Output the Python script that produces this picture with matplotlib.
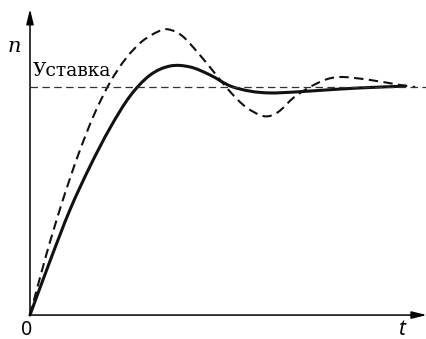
import matplotlib
matplotlib.use("Agg")
import matplotlib.pyplot as plt
from matplotlib.path import Path
from matplotlib.patches import PathPatch
import numpy as np

# values (t in arbitrary units, n relative to setpoint = 1)
setpoint = 1.0

t_solid = [0.0, 0.5, 1.0, 1.5, 2.0, 2.5, 3.0, 3.5, 4.0, 4.5, 5.0, 5.5, 6.0,
           6.6, 7.4, 8.25, 9.38]
n_solid = [0.0, 0.237, 0.462, 0.652, 0.82, 0.96, 1.052, 1.092, 1.088, 1.053, 1.005,
           0.982, 0.974, 0.978, 0.987, 0.996, 1.004]

t_dash = [0.0, 0.4, 0.8, 1.2, 1.6, 2.0, 2.4, 2.8, 3.2, 3.45, 3.8, 4.2, 4.6, 5.0,
          5.4, 5.85, 6.2, 6.6, 7.0, 7.4, 7.8, 8.5, 9.25, 9.63]
n_dash = [0.0, 0.26, 0.493, 0.70, 0.878, 1.02, 1.126, 1.2, 1.243, 1.253, 1.225,
          1.15, 1.065, 0.98, 0.912, 0.872, 0.89, 0.955, 1.0, 1.033, 1.044, 1.031,
          1.009, 1.0]

label_set = "Уставка"
label_y = "n"
label_x = "t"
label_origin = "0"


def smooth_path(xs, ys):
    # catmull-rom through the read points, drawn as cubic bezier
    p = np.column_stack([xs, ys])
    p = np.vstack([p[0], p, p[-1]])
    verts = [p[1]]
    codes = [Path.MOVETO]
    for i in range(1, len(p) - 2):
        c1 = p[i] + (p[i + 1] - p[i - 1]) / 6.0
        c2 = p[i + 1] - (p[i + 2] - p[i]) / 6.0
        verts += [c1, c2, p[i + 1]]
        codes += [Path.CURVE4] * 3
    return Path(verts, codes)


def main():
    fig = plt.figure(figsize=(4.27, 3.39), dpi=100)
    ax = fig.add_axes([0, 0, 1, 1])
    ax.set_xlim(-0.75, 9.925)
    ax.set_ylim(-0.105, 1.3816)
    ax.axis("off")

    # axes with arrows
    arrow = dict(arrowstyle="-|>,head_length=0.9,head_width=0.22", lw=1.1,
                 color="black", shrinkA=0, shrinkB=0)
    ax.annotate("", xy=(9.92, 0), xytext=(0, 0), arrowprops=arrow,
                annotation_clip=False)
    ax.annotate("", xy=(0, 1.342), xytext=(0, 0), arrowprops=arrow,
                annotation_clip=False)

    # setpoint
    ax.plot([0, 9.925], [setpoint, setpoint], color="#333333", lw=0.9,
            dashes=(6, 3.5))

    # responses
    ax.add_patch(PathPatch(smooth_path(t_dash, n_dash), fill=False,
                           edgecolor="#111111", lw=1.5,
                           linestyle=(0, (4.5, 2.6))))
    ax.add_patch(PathPatch(smooth_path(t_solid, n_solid), fill=False,
                           edgecolor="#111111", lw=2.2, capstyle="round"))

    ax.text(0.075, 1.048, label_set, family="DejaVu Serif", fontsize=13.5,
            ha="left", va="baseline")
    ax.text(-0.39, 1.178, label_y, family="DejaVu Serif", style="italic",
            fontsize=15, ha="center", va="center")
    ax.text(9.3, -0.064, label_x, family="Noto Sans", style="italic",
            fontsize=15, ha="center", va="center")
    ax.text(-0.09, -0.064, label_origin, family="Noto Sans", fontsize=14,
            ha="center", va="center")

    fig.savefig("out.png", dpi=100)


if __name__ == "__main__":
    main()
